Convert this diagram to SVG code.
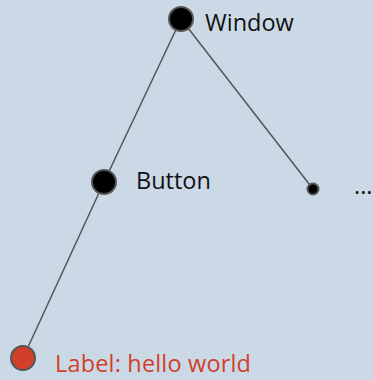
<svg xmlns="http://www.w3.org/2000/svg" width="373" height="380" viewBox="0 0 373 380">
<style>
.edge{stroke:#555;stroke-width:1.5;fill:none}
.node{fill:#000;stroke:#555;stroke-width:2}
.lbl{font-family:"Open Sans","Liberation Sans",sans-serif;font-size:23.5px;fill:#111}
.red{fill:#d0402a}
</style>
<rect width="373" height="380" fill="#cbd9e6"/>
<g id="connectors">
<line class="edge" x1="181" y1="19" x2="104" y2="182"/>
<line class="edge" x1="181" y1="19" x2="313" y2="189"/>
<line class="edge" x1="104" y1="182" x2="23" y2="358"/>
</g>
<g id="window"><circle class="node" cx="181" cy="19" r="12"/><text class="lbl" x="205" y="31">Window</text></g>
<g id="button"><circle class="node" cx="104" cy="182" r="12"/><text class="lbl" x="136" y="189">Button</text></g>
<g id="more"><circle class="node" cx="313" cy="189" r="5.5"/><text class="lbl" x="354" y="194">...</text></g>
<g id="label"><circle class="node red" cx="23" cy="358" r="12"/><text class="lbl red" x="55" y="372" textLength="196" lengthAdjust="spacing">Label: hello world</text></g>
</svg>
